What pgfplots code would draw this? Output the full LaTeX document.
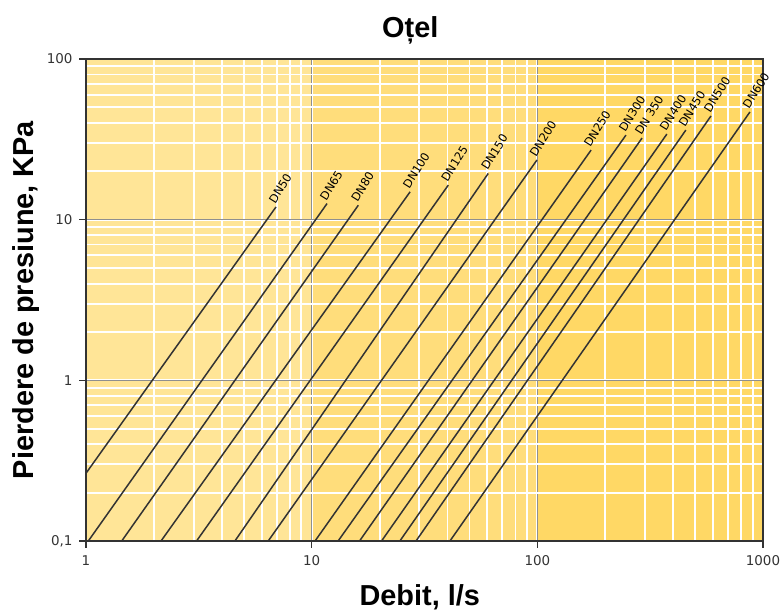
\documentclass[border=0pt]{standalone}
\usepackage{fontspec}
\setmainfont{Liberation Sans}
\newfontfamily\dejavu{DejaVu Sans}
\usepackage{pgfplots}
\pgfplotsset{compat=1.18}
\definecolor{bgA}{HTML}{FFE597}
\definecolor{bgB}{HTML}{FFDD7B}
\definecolor{bgC}{HTML}{FFD865}
\definecolor{axgray}{HTML}{333333}
\definecolor{majgrid}{HTML}{8F8F8F}
\tikzset{
  dn/.style={color=axgray, line width=1.5bp},
  lab/.style={pos=1, anchor=south west, rotate=58, inner sep=1bp, font=\dejavu\fontsize{11.5}{12}\selectfont, text=black},
}
\begin{document}
\begin{tikzpicture}
\begin{loglogaxis}[
  set layers,
  scale only axis, width=677bp, height=482bp,
  xmin=1, xmax=1000, ymin=0.1, ymax=100,
  xtick={1,10,100,1000}, xticklabels={1,10,100,1000},
  ytick={0.1,1,10,100}, yticklabels={{0,1},1,10,100},
  tick pos=left, tick align=outside,
  major tick length=7bp, minor tick length=0pt,
  grid=both,
  major grid style={majgrid, line width=1.2bp},
  minor grid style={white, line width=1.8bp},
  axis line style={axgray, line width=1.6bp},
  tick style={axgray, line width=1.2bp},
  ticklabel style={font=\dejavu\fontsize{13.5}{15}\selectfont, text=axgray},
  xticklabel style={yshift=-4bp},
  yticklabel style={xshift=-3bp},
  clip=false,
]
\addplot[fill=bgA, draw=none, on layer=axis background] coordinates {(1,0.1) (10,0.1) (10,100) (1,100)};
\addplot[fill=bgB, draw=none, on layer=axis background] coordinates {(10,0.1) (100,0.1) (100,100) (10,100)};
\addplot[fill=bgC, draw=none, on layer=axis background] coordinates {(100,0.1) (1000,0.1) (1000,100) (100,100)};

\addplot[dn] coordinates {(1,0.264) (6.95,12.0)} node[lab] {DN50};
\addplot[dn] coordinates {(1.024,0.1) (11.7,12.6)} node[lab] {DN65};
\addplot[dn] coordinates {(1.44,0.1) (16.1,12.3)} node[lab] {DN80};
\addplot[dn] coordinates {(2.15,0.1) (27.3,14.9)} node[lab] {DN100};
\addplot[dn] coordinates {(3.09,0.1) (40.3,16.4)} node[lab] {DN125};
\addplot[dn] coordinates {(4.57,0.1) (60.6,19.4)} node[lab] {DN150};
\addplot[dn] coordinates {(6.42,0.1) (99.6,23.5)} node[lab] {DN200};
\addplot[dn] coordinates {(10.35,0.1) (173,27.1)} node[lab] {DN250};
\addplot[dn] coordinates {(13.1,0.1) (247,33.6)} node[lab] {DN300};
\addplot[dn] coordinates {(16.3,0.1) (291,32.2)} node[lab] {DN 350};
\addplot[dn] coordinates {(20.4,0.1) (375,34.1)} node[lab] {DN400};
\addplot[dn] coordinates {(24.6,0.1) (455,36.1)} node[lab] {DN450};
\addplot[dn] coordinates {(29.0,0.1) (588,44.2)} node[lab] {DN500};
\addplot[dn] coordinates {(41.0,0.1) (875,46.8)} node[lab] {DN600};

\node[font=\bfseries\fontsize{29}{34}\selectfont] at (axis description cs:0.479,1.06) {Oțel};
\node[font=\bfseries\fontsize{29}{34}\selectfont, rotate=90] at (axis description cs:-0.0886,0.5) {Pierdere de presiune, KPa};
\node[font=\bfseries\fontsize{29}{34}\selectfont] at (axis description cs:0.493,-0.116) {Debit, l/s};
\end{loglogaxis}
\pgfresetboundingbox
\path (current axis.south west) ++(-86bp,-73bp) rectangle ++(781bp,614bp);
\end{tikzpicture}
\end{document}
